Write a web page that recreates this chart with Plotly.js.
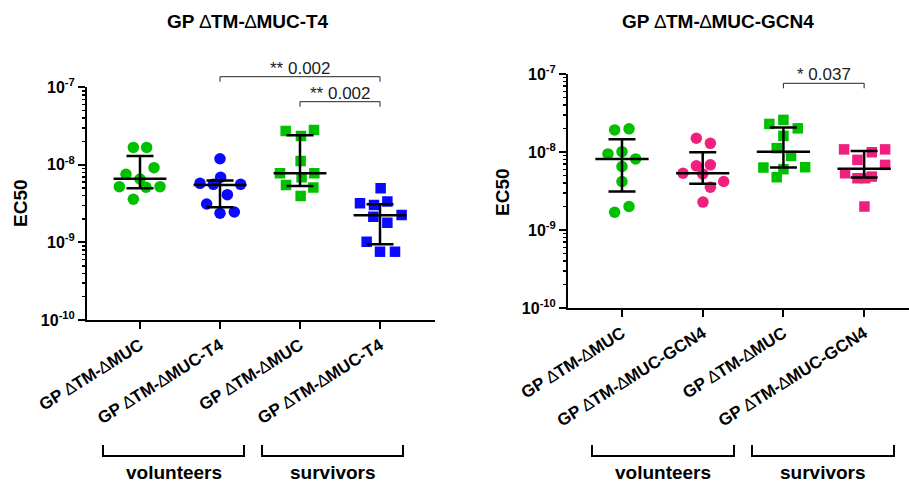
<!DOCTYPE html>
<html><head><meta charset="utf-8">
<script src="https://cdn.plot.ly/plotly-3.0.1.min.js"></script>
<style>html,body{margin:0;padding:0;background:#fff}#chart{width:909px;height:482px}</style>
</head><body><div id="chart"></div>
<script>
// ---------- categories & labels ----------
const categoriesLeft = ['GP \u2206TM-\u2206MUC', 'GP \u2206TM-\u2206MUC-T4', 'GP \u2206TM-\u2206MUC', 'GP \u2206TM-\u2206MUC-T4'];
const categoriesRight = ['GP \u2206TM-\u2206MUC', 'GP \u2206TM-\u2206MUC-GCN4', 'GP \u2206TM-\u2206MUC', 'GP \u2206TM-\u2206MUC-GCN4'];
const groupLabels = ['volunteers', 'survivors'];
const titles = ['GP \u2206TM-\u2206MUC-T4', 'GP \u2206TM-\u2206MUC-GCN4'];
const yTitle = 'EC50';
const yTickVals = [1e-10, 1e-9, 1e-8, 1e-7];
const yTickText = ['10<sup>-10</sup>', '10<sup>-9</sup>', '10<sup>-8</sup>', '10<sup>-7</sup>'];

// ---------- left panel (T4) ----------
const leftVolDTM = [1.68e-8, 1.68e-8, 7.55e-9, 9.2e-9, 5.24e-9, 6.58e-9, 5.24e-9, 5.14e-9, 3.6e-9];
const leftVolDTMJitter = [-0.083, 0.083, -0.175, 0.175, -0.258, 0, 0.25, 0.075, -0.083];
const leftVolT4 = [1.20e-8, 5.78e-9, 5.61e-9, 6.92e-9, 5.61e-9, 4.13e-9, 3.13e-9, 2.38e-9, 2.47e-9];
const leftVolT4Jitter = [0, -0.25, -0.083, 0.008, 0.258, 0.092, -0.167, 0, 0.179];
const leftSurvDTM = [2.74e-8, 2.82e-8, 2.36e-8, 1.12e-8, 7.78e-9, 7.78e-9, 6.92e-9, 5.51e-9, 5.09e-9, 3.97e-9];
const leftSurvDTMJitter = [-0.179, 0.175, 0.012, 0.008, -0.25, 0.179, 0.02, -0.175, 0.167, 0.008];
const leftSurvT4 = [4.99e-9, 3.19e-9, 3.04e-9, 3.36e-9, 2.15e-9, 1.80e-9, 2.26e-9, 1.02e-9, 7.6e-10, 7.6e-10];
const leftSurvT4Jitter = [0.008, -0.25, -0.075, 0.092, -0.083, 0.092, 0.27, -0.167, 0, 0.1875];
const leftCenter = [6.6e-9, 5.51e-9, 7.78e-9, 2.24e-9];
const leftUpper = [1.30e-8, 6.27e-9, 2.40e-8, 3.10e-9];
const leftLower = [4.99e-9, 2.84e-9, 5.35e-9, 9.46e-10];
const leftSig = [{from: 1, to: 3, label: '** 0.002'}, {from: 2, to: 3, label: '** 0.002'}];

// ---------- right panel (GCN4) ----------
const rightVolDTM = [1.92e-8, 1.98e-8, 9.46e-9, 1.01e-8, 8.16e-9, 6.51e-9, 4.18e-9, 1.69e-9, 2.00e-9];
const rightVolDTMJitter = [-0.091, 0.087, -0.174, 0, 0.169, 0, 0, -0.091, 0.087];
const rightVolGCN4 = [1.50e-8, 1.29e-8, 5.34e-9, 6.64e-9, 6.84e-9, 5.24e-9, 4.18e-9, 3.54e-9, 2.28e-9];
const rightVolGCN4Jitter = [-0.079, 0.095, -0.244, -0.079, 0.095, 0, 0.26, 0.095, 0.004];
const rightSurvDTM = [2.29e-8, 2.58e-8, 2.01e-8, 1.61e-8, 1.12e-8, 8.91e-9, 6.32e-9, 6.02e-9, 6.38e-9, 4.75e-9];
const rightSurvDTMJitter = [-0.174, 0, 0.178, 0, -0.083, 0.095, -0.248, 0, 0.269, -0.083];
const rightSurvGCN4 = [1.08e-8, 1.08e-8, 9.93e-9, 7.93e-9, 6.84e-9, 5.34e-9, 4.61e-9, 4.84e-9, 4.61e-9, 2.00e-9];
const rightSurvGCN4Jitter = [-0.248, 0.26, 0.095, -0.083, 0.26, -0.236, -0.083, 0.095, 0.012, 0.004];
const rightCenter = [8.16e-9, 5.34e-9, 1.01e-8, 6.08e-9];
const rightUpper = [1.46e-8, 9.93e-9, 2.06e-8, 1.03e-8];
const rightLower = [3.11e-9, 3.91e-9, 6.32e-9, 4.71e-9];
const rightSig = [{from: 2, to: 3, label: '* 0.037'}];

// ---------- styles ----------
const GREEN = '#00c000', BLUE = '#0a0aff', PINK = '#f0207f';
const FONT = 'Liberation Sans, Arial, sans-serif';
const H = 482, W = 909;
const py = v => 1 - v / H;
// the reference draws the delta as a thin outline triangle
const lightDelta = s => s.replace(/\u2206/g, '<span style="font-weight:normal">\u2206</span>');

const traces = [];
function groupTrace(vals, jit, idx, color, symbol, xa, ya) {
  traces.push({
    type: 'scatter', mode: 'markers', xaxis: xa, yaxis: ya, hoverinfo: 'skip',
    x: vals.map((v, k) => idx + jit[k]), y: vals,
    marker: {color: color, symbol: symbol, size: symbol === 'square' ? 10.5 : 11.5, line: {width: 0}}
  });
}
function summaryTraces(center, upper, lower, xa, ya) {
  const mx = [], my = [];
  center.forEach((c, i) => { mx.push(i - 0.33, i + 0.33, null); my.push(c, c, null); });
  traces.push({type: 'scatter', mode: 'lines', xaxis: xa, yaxis: ya, x: mx, y: my, hoverinfo: 'skip',
    line: {color: '#000', width: 2.5}});
  traces.push({type: 'scatter', mode: 'markers', xaxis: xa, yaxis: ya, hoverinfo: 'skip',
    x: center.map((c, i) => i), y: center, marker: {size: 1, color: 'rgba(0,0,0,0)'},
    error_y: {type: 'data', symmetric: false,
      array: upper.map((u, i) => u - center[i]), arrayminus: lower.map((l, i) => center[i] - l),
      color: '#000', thickness: 2.5, width: 13.5}});
}

groupTrace(leftVolDTM, leftVolDTMJitter, 0, GREEN, 'circle', 'x', 'y');
groupTrace(leftVolT4, leftVolT4Jitter, 1, BLUE, 'circle', 'x', 'y');
groupTrace(leftSurvDTM, leftSurvDTMJitter, 2, GREEN, 'square', 'x', 'y');
groupTrace(leftSurvT4, leftSurvT4Jitter, 3, BLUE, 'square', 'x', 'y');
summaryTraces(leftCenter, leftUpper, leftLower, 'x', 'y');

groupTrace(rightVolDTM, rightVolDTMJitter, 0, GREEN, 'circle', 'x2', 'y2');
groupTrace(rightVolGCN4, rightVolGCN4Jitter, 1, PINK, 'circle', 'x2', 'y2');
groupTrace(rightSurvDTM, rightSurvDTMJitter, 2, GREEN, 'square', 'x2', 'y2');
groupTrace(rightSurvGCN4, rightSurvGCN4Jitter, 3, PINK, 'square', 'x2', 'y2');
summaryTraces(rightCenter, rightUpper, rightLower, 'x2', 'y2');

// minor log ticks (2..9 in each decade) on overlaying axes
const minorVals = [];
[-10, -9, -8].forEach(e => { for (let d = 2; d <= 9; d++) minorVals.push(d * Math.pow(10, e)); });
traces.push({type: 'scatter', mode: 'markers', xaxis: 'x', yaxis: 'y3', x: [0], y: [1e-8], hoverinfo: 'skip',
  marker: {size: 1, color: 'rgba(0,0,0,0)'}});
traces.push({type: 'scatter', mode: 'markers', xaxis: 'x2', yaxis: 'y4', x: [0], y: [1e-8], hoverinfo: 'skip',
  marker: {size: 1, color: 'rgba(0,0,0,0)'}});

function xAxis(domain, range, labels, anchor) {
  return {domain: domain, range: range, anchor: anchor, tickmode: 'array', tickvals: [0, 1, 2, 3],
    ticktext: labels.map(lightDelta),
    tickangle: -32, ticks: 'outside', ticklen: 7, tickwidth: 2, tickcolor: '#000',
    showline: true, linewidth: 2, linecolor: '#000', showgrid: false, zeroline: false, fixedrange: true,
    tickfont: {family: FONT, size: 17, weight: 'bold', color: '#000'}};
}
function yAxis(domain, anchor) {
  return {type: 'log', domain: domain, range: [-10, -7], anchor: anchor, tickmode: 'array',
    tickvals: yTickVals, ticktext: yTickText, ticks: 'outside', ticklen: 7, tickwidth: 2, tickcolor: '#000',
    showline: true, linewidth: 2, linecolor: '#000', showgrid: false, zeroline: false, fixedrange: true,
    tickfont: {family: FONT, size: 16, weight: 'bold', color: '#000'}};
}
function minorAxis(base, anchor) {
  return {type: 'log', overlaying: base, anchor: anchor, side: 'left', range: [-10, -7], tickmode: 'array',
    tickvals: minorVals, showticklabels: false, ticks: 'outside', ticklen: 4, tickwidth: 1.5, tickcolor: '#000',
    showline: false, showgrid: false, zeroline: false, fixedrange: true};
}

const shapes = [], annotations = [];
function sigBracket(s, xref, yTopPx, textPx) {
  const top = py(yTopPx), bot = py(yTopPx + 5);
  shapes.push({type: 'line', xref: xref, yref: 'paper', x0: s.from, x1: s.to, y0: top, y1: top, line: {color: '#222', width: 1}});
  shapes.push({type: 'line', xref: xref, yref: 'paper', x0: s.from, x1: s.from, y0: top, y1: bot, line: {color: '#222', width: 1}});
  shapes.push({type: 'line', xref: xref, yref: 'paper', x0: s.to, x1: s.to, y0: top, y1: bot, line: {color: '#222', width: 1}});
  annotations.push({xref: xref, yref: 'paper', x: (s.from + s.to) / 2, y: py(textPx), text: s.label, showarrow: false,
    xanchor: 'center', yanchor: 'middle', font: {family: FONT, size: 17, color: '#222'}});
}
sigBracket(leftSig[0], 'x', 76.7, 68.5);
sigBracket(leftSig[1], 'x', 101.7, 93.5);
sigBracket(rightSig[0], 'x2', 83.3, 74.5);

function groupBracket(x0, x1, label) {
  const top = py(445), bot = py(456);
  shapes.push({type: 'path', xref: 'paper', yref: 'paper',
    path: `M ${x0 / W} ${top} L ${x0 / W} ${bot} L ${x1 / W} ${bot} L ${x1 / W} ${top}`, line: {color: '#000', width: 2}});
  annotations.push({xref: 'paper', yref: 'paper', x: (x0 + x1) / 2 / W, y: py(472), text: label, showarrow: false,
    xanchor: 'center', yanchor: 'middle', font: {family: FONT, size: 19, weight: 'bold', color: '#000'}});
}
groupBracket(103, 244, groupLabels[0]);
groupBracket(262, 403, groupLabels[1]);
groupBracket(592, 734, groupLabels[0]);
groupBracket(752, 894, groupLabels[1]);

annotations.push({xref: 'paper', yref: 'paper', x: 248 / W, y: py(22), text: lightDelta(titles[0]), showarrow: false,
  xanchor: 'center', yanchor: 'middle', font: {family: FONT, size: 19, weight: 'bold', color: '#000'}});
annotations.push({xref: 'paper', yref: 'paper', x: 718 / W, y: py(22), text: lightDelta(titles[1]), showarrow: false,
  xanchor: 'center', yanchor: 'middle', font: {family: FONT, size: 19, weight: 'bold', color: '#000'}});
annotations.push({xref: 'paper', yref: 'paper', x: 20 / W, y: py(203), text: yTitle, showarrow: false, textangle: -90,
  xanchor: 'center', yanchor: 'middle', font: {family: FONT, size: 19, weight: 'bold', color: '#000'}});
annotations.push({xref: 'paper', yref: 'paper', x: 503 / W, y: py(192), text: yTitle, showarrow: false, textangle: -90,
  xanchor: 'center', yanchor: 'middle', font: {family: FONT, size: 19, weight: 'bold', color: '#000'}});

const layout = {
  width: W, height: H, margin: {l: 0, r: 0, t: 0, b: 0}, showlegend: false,
  paper_bgcolor: '#fff', plot_bgcolor: '#fff',
  xaxis: xAxis([87 / W, 435 / W], [-0.6625, 3.6875], categoriesLeft, 'y'),
  yaxis: yAxis([py(320), py(87.3)], 'x'),
  xaxis2: xAxis([568 / W, 1], [-0.669, 3.556], categoriesRight, 'y2'),
  yaxis2: yAxis([py(308), py(74)], 'x2'),
  yaxis3: minorAxis('y', 'x'),
  yaxis4: minorAxis('y2', 'x2'),
  shapes: shapes, annotations: annotations
};
Plotly.newPlot('chart', traces, layout, {displayModeBar: false, staticPlot: true});
</script></body></html>
